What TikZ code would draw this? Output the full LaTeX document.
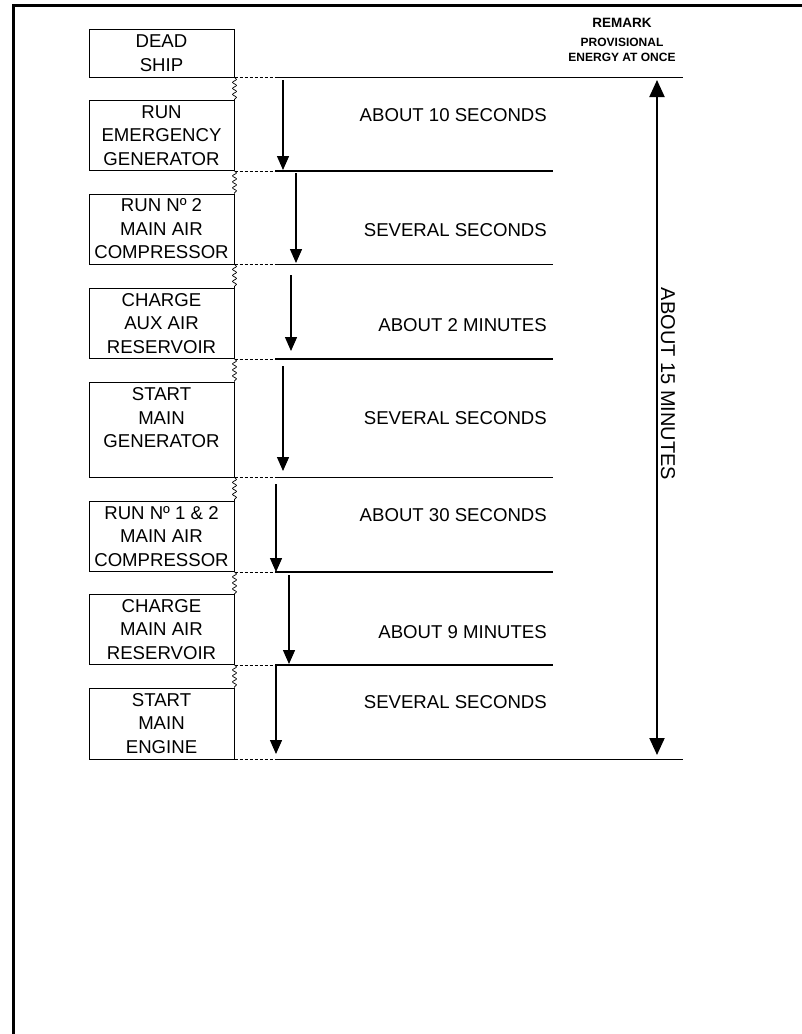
\documentclass[tikz,border=0pt]{standalone}
\usepackage{fontspec}
\setmainfont{Liberation Sans}
\usetikzlibrary{arrows.meta,decorations.pathmorphing}
\begin{document}
\begin{tikzpicture}[x=1pt,y=-1pt,
  stepbox/.style={draw, line width=1pt, minimum width=145pt, inner sep=0pt, align=center,
    font=\fontsize{18.6}{23.5}\selectfont, anchor=south},
  timelabel/.style={anchor=east, inner sep=0pt, font=\fontsize{18.6}{22}\selectfont},
  flow/.style={line width=1.4pt, -{Triangle[width=12pt,length=14pt]}},
  steprule/.style={line width=1.1pt},
  leader/.style={line width=1pt, dash pattern=on 3pt off 2pt},
  wave/.style={line width=0.7pt, decorate, decoration={snake, amplitude=2pt, segment length=6pt}},
  total/.style={line width=2pt, {Triangle[width=15pt,length=17pt]}-{Triangle[width=15pt,length=17pt]}},
  frame/.style={line width=3.5pt}
]
\useasboundingbox (0,0) rectangle (802,1034);
% page frame
\draw[frame] (802,5.7) -- (13.7,5.7) -- (13.7,1034);

% step boxes
\node[stepbox, minimum height=48pt] (b0) at (161.5,77.5) {DEAD\\SHIP};
\node[stepbox, minimum height=70pt] (b1) at (161.5,171) {RUN\\EMERGENCY\\GENERATOR};
\node[stepbox, minimum height=70pt] (b2) at (161.5,264.5) {RUN Nº 2\\MAIN AIR\\COMPRESSOR};
\node[stepbox, minimum height=70pt] (b3) at (161.5,359) {CHARGE\\AUX AIR\\RESERVOIR};
\node[stepbox, minimum height=95pt] (b4) at (161.5,477.5) {START\\MAIN\\GENERATOR\\\mbox{}};
\node[stepbox, minimum height=70pt] (b5) at (161.5,572) {RUN Nº 1 \& 2\\MAIN AIR\\COMPRESSOR};
\node[stepbox, minimum height=70pt] (b6) at (161.5,665) {CHARGE\\MAIN AIR\\RESERVOIR};
\node[stepbox, minimum height=71pt] (b7) at (161.5,759.5) {START\\MAIN\\ENGINE};

% wavy links between boxes
\draw[wave] (b0.south east) -- (b1.north east);
\draw[wave] (b1.south east) -- (b2.north east);
\draw[wave] (b2.south east) -- (b3.north east);
\draw[wave] (b3.south east) -- (b4.north east);
\draw[wave] (b4.south east) -- (b5.north east);
\draw[wave] (b5.south east) -- (b6.north east);
\draw[wave] (b6.south east) -- (b7.north east);

% horizontal rules
\coordinate (d0) at (275,77.5);  \coordinate (e0) at (683,77.5);
\coordinate (d1) at (275,171);   \coordinate (e1) at (553,171);
\coordinate (d2) at (275,264.5); \coordinate (e2) at (553,264.5);
\coordinate (d3) at (275,359);   \coordinate (e3) at (553,359);
\coordinate (d4) at (275,477.5); \coordinate (e4) at (553,477.5);
\coordinate (d5) at (275,572);   \coordinate (e5) at (553,572);
\coordinate (d6) at (275,665);   \coordinate (e6) at (553,665);
\coordinate (d7) at (275,759.5); \coordinate (e7) at (683,759.5);
\foreach \i in {0,...,7} {
  \draw[leader] (b\i.south east) -- (d\i);
  \draw[steprule] (d\i) -- (e\i);
}

% step arrows
\coordinate (a1s) at (283,80);  \coordinate (a1e) at (283,170);
\coordinate (a2s) at (296,173); \coordinate (a2e) at (296,263);
\coordinate (a3s) at (291,275); \coordinate (a3e) at (291,351);
\coordinate (a4s) at (283,366); \coordinate (a4e) at (283,471);
\coordinate (a5s) at (276,484); \coordinate (a5e) at (276,572);
\coordinate (a6s) at (289,575); \coordinate (a6e) at (289,664);
\coordinate (a7s) at (276,665); \coordinate (a7e) at (276,754);
\foreach \i in {1,...,7} {
  \draw[flow] (a\i s) -- (a\i e);
}

% time labels
\node[timelabel] (t1) at (547,115) {ABOUT 10 SECONDS};
\node[timelabel] (t2) at (547,230) {SEVERAL SECONDS};
\node[timelabel] (t3) at (547,325) {ABOUT 2 MINUTES};
\node[timelabel] (t4) at (547,418) {SEVERAL SECONDS};
\node[timelabel] (t5) at (547,515) {ABOUT 30 SECONDS};
\node[timelabel] (t6) at (547,632) {ABOUT 9 MINUTES};
\node[timelabel] (t7) at (547,702) {SEVERAL SECONDS};

% remark
\node[anchor=north, inner sep=0pt, align=center, font=\bfseries\fontsize{12}{15.5}\selectfont] (remark) at (622,18.2)
  {{\fontsize{13.5}{16}\selectfont REMARK}\\[3pt]PROVISIONAL\\ENERGY AT ONCE};

% overall span
\coordinate (ts) at (657,80);
\coordinate (te) at (657,755);
\draw[total] (ts) -- (te);
\node[rotate=-90, inner sep=0pt, font=\fontsize{20}{24}\selectfont] (span) at (668,384) {ABOUT 15 MINUTES};
\end{tikzpicture}
\end{document}
